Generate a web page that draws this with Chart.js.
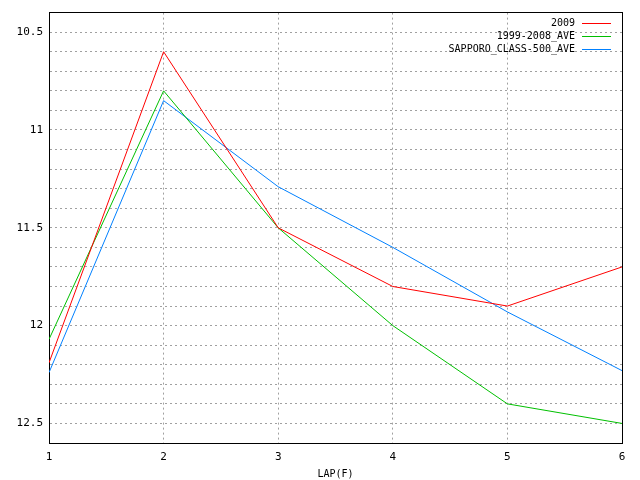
<!DOCTYPE html>
<html>
<head>
<meta charset="utf-8">
<script src="https://cdn.jsdelivr.net/npm/chart.js@4.4.1/dist/chart.umd.min.js"></script>
<style>
  html, body { margin: 0; padding: 0; background: #fff; }
  canvas { display: block; }
</style>
</head>
<body>
<canvas id="chart" width="640" height="480"></canvas>
<script>
const laps = [1, 2, 3, 4, 5, 6];
const seriesNames = ["2009", "1999-2008_AVE", "SAPPORO_CLASS-500_AVE"];
const seriesColors = ["#ff0000", "#00c000", "#0080ff"];
const times2009 = [12.19, 10.60, 11.50, 11.80, 11.90, 11.70];
const timesAve = [12.07, 10.80, 11.50, 12.00, 12.40, 12.50];
const timesClass = [12.24, 10.85, 11.29, 11.60, 11.93, 12.23];
const yLabelValues = [10.5, 11, 11.5, 12, 12.5];

const FONT = "'DejaVu Sans Mono', monospace";
const gridColor = "#a0a0a0";

function toPoints(values) {
  return laps.map((lap, i) => ({ x: lap, y: values[i] }));
}

const allSeries = [times2009, timesAve, timesClass];
const datasets = allSeries.map((values, i) => ({
  label: seriesNames[i],
  data: toPoints(values),
  borderColor: seriesColors[i],
  backgroundColor: seriesColors[i],
  borderWidth: 1,
  pointRadius: 0,
  tension: 0,
  fill: false
}));

// legend drawn gnuplot style: text right aligned, line sample after it
const gnuLegend = {
  id: "gnuLegend",
  afterDatasetsDraw(chart) {
    const ctx = chart.ctx;
    const area = chart.chartArea;
    ctx.save();
    ctx.font = "10px " + FONT;
    ctx.textAlign = "right";
    ctx.textBaseline = "middle";
    seriesNames.forEach((name, i) => {
      const y = Math.round(area.top + 10 + i * 13);
      ctx.fillStyle = "#000";
      ctx.fillText(name, area.right - 47, y);
      ctx.fillStyle = seriesColors[i];
      ctx.fillRect(Math.round(area.right - 40), y, 29, 1);
    });
    ctx.restore();
  }
};

new Chart(document.getElementById("chart"), {
  type: "line",
  data: { datasets: datasets },
  options: {
    responsive: false,
    animation: false,
    devicePixelRatio: 1,
    layout: { padding: { top: 11, right: 18, left: 0, bottom: 0 } },
    plugins: {
      legend: { display: false },
      tooltip: { enabled: false }
    },
    scales: {
      x: {
        type: "linear",
        position: "bottom",
        min: 1,
        max: 6,
        ticks: {
          stepSize: 1,
          color: "#000",
          padding: 8,
          font: { family: FONT, size: 11 }
        },
        grid: { color: gridColor, drawTicks: false, lineWidth: 1 },
        border: { display: true, color: "#000", width: 1, dash: [2, 3] },
        title: {
          display: true,
          text: "LAP(F)",
          color: "#000",
          font: { family: FONT, size: 10 },
          padding: { top: 0, bottom: 0 }
        },
        afterFit(scale) { scale.height = 37; }
      },
      y: {
        type: "linear",
        position: "left",
        reverse: true,
        min: 10.4,
        max: 12.6,
        ticks: {
          stepSize: 0.1,
          autoSkip: false,
          color: "#000",
          padding: 6,
          font: { family: FONT, size: 11 },
          callback(value) {
            const hit = yLabelValues.find(v => Math.abs(v - value) < 1e-6);
            return hit === undefined ? "" : String(hit);
          }
        },
        grid: { color: gridColor, drawTicks: false, lineWidth: 1 },
        border: { display: true, color: "#000", width: 1, dash: [2, 3] },
        afterFit(scale) { scale.width = 49; }
      },
      x2: {
        type: "linear",
        position: "top",
        min: 1,
        max: 6,
        ticks: { display: false },
        grid: { display: false },
        border: { display: true, color: "#000", width: 1 },
        afterFit(scale) { scale.height = 0; }
      },
      y2: {
        type: "linear",
        position: "right",
        reverse: true,
        min: 10.4,
        max: 12.6,
        ticks: { display: false },
        grid: { display: false },
        border: { display: true, color: "#000", width: 1 },
        afterFit(scale) { scale.width = 0; }
      }
    }
  },
  plugins: [gnuLegend]
});
</script>
</body>
</html>
